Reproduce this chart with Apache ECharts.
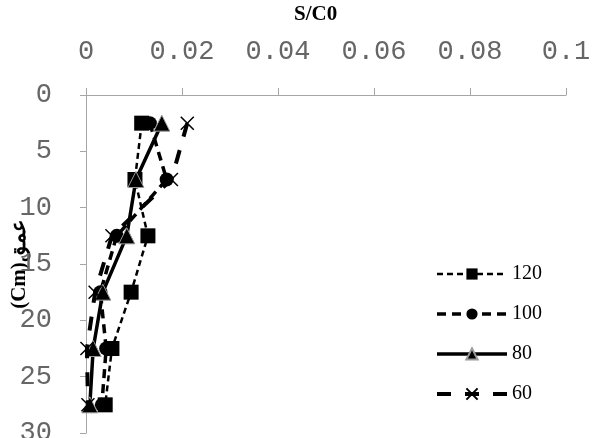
<!DOCTYPE html>
<html><head><meta charset="utf-8">
<script src="https://cdn.jsdelivr.net/npm/echarts@6/dist/echarts.min.js"></script>
<style>html,body{margin:0;padding:0;background:#fff}#c{width:592px;height:438px}</style>
</head><body><div id="c"></div>
<script>
const depths = [2.5, 7.5, 12.5, 17.5, 22.5, 27.5];
const s120 = [0.0116, 0.0102, 0.0129, 0.0094, 0.0054, 0.0040];
const s100 = [0.0133, 0.0168, 0.0064, 0.0030, 0.0042, 0.0033];
const s80  = [0.0158, 0.0104, 0.0085, 0.0035, 0.0015, 0.0008];
const s60  = [0.0211, 0.0178, 0.0054, 0.0019, 0.0002, 0.0004];
const seriesNames = ['120', '100', '80', '60'];
const xTicks = [0, 0.02, 0.04, 0.06, 0.08, 0.1];

const pts = arr => arr.map((v, i) => [v, depths[i]]);
const cross = 'path://M0,0 L10,10 M10,0 L0,10';

const ls120 = {color: '#000', width: 2.5, type: [6, 4]};
const ls100 = {color: '#000', width: 3.5, type: [9, 6]};
const ls80  = {color: '#000', width: 3.5, type: 'solid'};
const ls60  = {color: '#000', width: 4, type: [14, 14]};

const chart = echarts.init(document.getElementById('c'));
chart.setOption({
  animation: false,
  title: {
    text: 'S/C0', left: 289, top: -1,
    textStyle: {fontFamily: 'Liberation Serif', fontWeight: 'bold', fontSize: 21, color: '#000'}
  },
  grid: {left: 86, right: 26, top: 95, bottom: 5, outerBoundsMode: 'none', containLabel: false},
  legend: {
    orient: 'vertical', left: 430, top: 259, itemGap: 20,
    itemWidth: 70, itemHeight: 14,
    data: [
      {name: seriesNames[0], lineStyle: ls120},
      {name: seriesNames[1], lineStyle: ls100},
      {name: seriesNames[2], lineStyle: ls80},
      {name: seriesNames[3], lineStyle: ls60}
    ],
    textStyle: {fontFamily: 'Liberation Serif', fontSize: 20, color: '#000'}
  },
  xAxis: {
    type: 'value', position: 'top', min: xTicks[0], max: xTicks[xTicks.length - 1], interval: 0.02,
    axisLine: {lineStyle: {color: '#a6a6a6', width: 1}},
    axisTick: {show: true, length: 7, lineStyle: {color: '#a6a6a6'}},
    splitLine: {show: false},
    axisLabel: {margin: 30, fontFamily: 'Liberation Mono', fontSize: 27, color: '#666666'}
  },
  yAxis: {
    type: 'value', inverse: true, min: 0, max: 30, interval: 5,
    name: '(Cm)عمق', nameLocation: 'middle', nameGap: 56, nameRotate: 90,
    nameMoveOverlap: false,
    nameTextStyle: {fontFamily: 'Liberation Serif', fontWeight: 'bold', fontSize: 21, color: '#000', backgroundColor: '#fff', padding: [0, 2, 0, 2]},
    axisLine: {show: true, lineStyle: {color: '#a6a6a6', width: 1}},
    axisTick: {show: true, length: 6, lineStyle: {color: '#a6a6a6'}},
    splitLine: {show: false},
    axisLabel: {margin: 34, fontFamily: 'Liberation Mono', fontSize: 27, color: '#666666'}
  },
  series: [
    {name: '120', type: 'line', data: pts(s120), symbol: 'rect', symbolSize: 15,
     lineStyle: ls120, itemStyle: {color: '#000'}, z: 2},
    {name: '100', type: 'line', data: pts(s100), symbol: 'circle', symbolSize: 14,
     lineStyle: ls100, itemStyle: {color: '#000'}, z: 3},
    {name: '80', type: 'line', data: pts(s80), symbol: 'triangle', symbolSize: 16,
     lineStyle: ls80, itemStyle: {color: '#000', borderColor: '#999', borderWidth: 1}, z: 4},
    {name: '60', type: 'line', data: pts(s60), symbol: cross, symbolSize: 13,
     lineStyle: ls60, itemStyle: {color: 'rgba(0,0,0,0)', borderColor: '#000', borderWidth: 1.5}, z: 5}
  ]
});
</script></body></html>
